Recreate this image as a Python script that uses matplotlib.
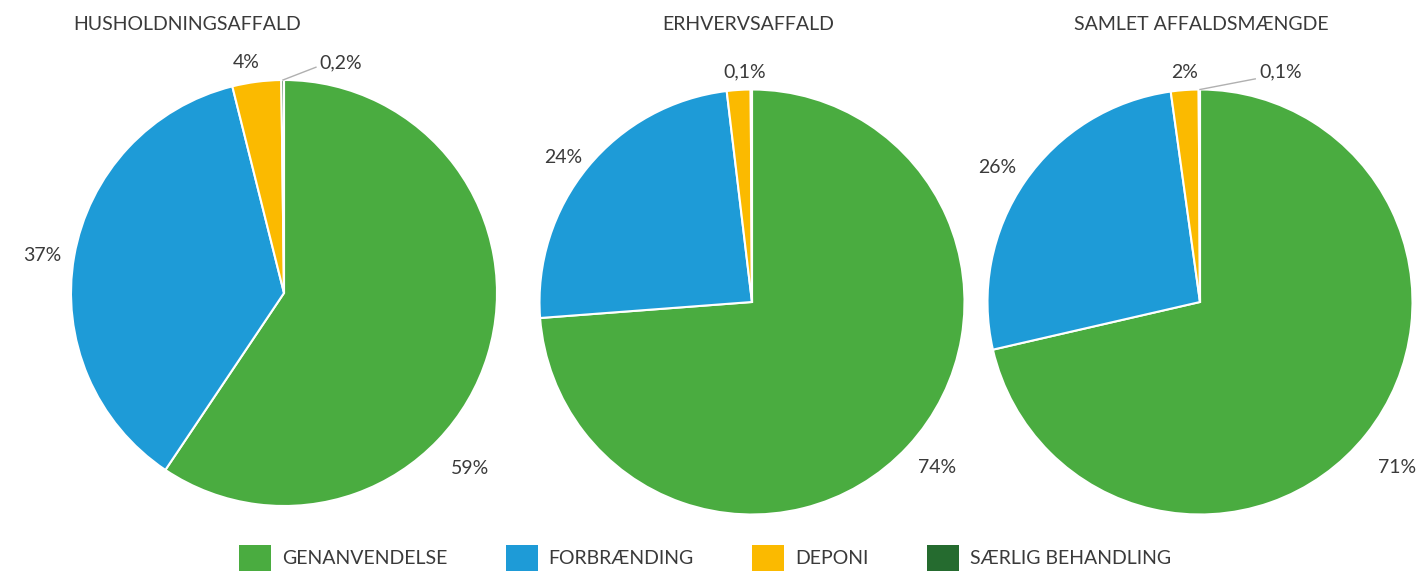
import matplotlib
matplotlib.use("Agg")
import matplotlib.pyplot as plt

plt.rcParams['font.family'] = ['Lato', 'DejaVu Sans']

categories = ['GENANVENDELSE', 'FORBRÆNDING', 'DEPONI', 'SÆRLIG BEHANDLING']
colors = ['#4AAC40', '#1E9BD7', '#FBBA00', '#256B2F']

titles = ['HUSHOLDNINGSAFFALD', 'ERHVERVSAFFALD', 'SAMLET AFFALDSMÆNGDE']
husholdning = [59.4, 36.7, 3.7, 0.2]
erhverv = [73.8, 24.3, 1.8, 0.1]
samlet = [71.4, 26.4, 2.1, 0.1]
series = [husholdning, erhverv, samlet]

# labels shown per pie (text, x, y in pie radius units)
pie_labels = [
    [('59%', 0.873, -0.822), ('37%', -1.136, 0.174), ('4%', -0.178, 1.080), ('0,2%', 0.268, 1.080)],
    [('74%', 0.871, -0.781), ('24%', -0.889, 0.682), ('0,1%', -0.033, 1.082)],
    [('71%', 0.927, -0.781), ('26%', -0.955, 0.631), ('2%', -0.071, 1.082), ('0,1%', 0.381, 1.082)],
]
# leader lines (from, to) in radius units
leaders = [
    [(-0.005, 1.0), (0.15, 1.06)],
    None,
    [(0.0, 1.0), (0.26, 1.05)],
]

W, H = 1420, 572
centers = [(284, 293), (752, 302), (1200, 302)]
radii = [213, 212.5, 212.5]
title_x = [187, 748, 1201]
text_color = '#3a3a3a'

fig = plt.figure(figsize=(W / 100, H / 100), dpi=100)

wedges_all = None
for i, vals in enumerate(series):
    cx, cy = centers[i]
    r = radii[i]
    ax = fig.add_axes([(cx - r) / W, 1 - (cy + r) / H, 2 * r / W, 2 * r / H])
    wedges, _ = ax.pie(vals, colors=colors, startangle=90, counterclock=False,
                       radius=1, wedgeprops=dict(edgecolor='white', linewidth=1.5))
    if wedges_all is None:
        wedges_all = wedges
    ax.set_xlim(-1, 1)
    ax.set_ylim(-1, 1)
    ax.set_aspect('auto')
    ax.axis('off')
    for txt, x, y in pie_labels[i]:
        ax.text(x, y, txt, ha='center', va='center', fontsize=14, color=text_color, clip_on=False)
    if leaders[i] is not None:
        (x0, y0), (x1, y1) = leaders[i]
        ax.plot([x0, x1], [y0, y1], color='#b0b0b0', lw=1, clip_on=False)
    fig.text(title_x[i] / W, 1 - 25 / H, titles[i], ha='center', va='center',
             fontsize=14, color=text_color)

leg = fig.legend(wedges_all, categories, loc='center', bbox_to_anchor=(0.4965, 1 - 558 / H),
                 ncol=4, frameon=False, fontsize=14, handlelength=1.65, handleheight=1.75,
                 handletextpad=0.55, columnspacing=3.0, labelcolor=text_color,
                 borderpad=0)
for h in leg.legend_handles:
    h.set_edgecolor('none')

fig.savefig('out.png', dpi=100, facecolor='white')
